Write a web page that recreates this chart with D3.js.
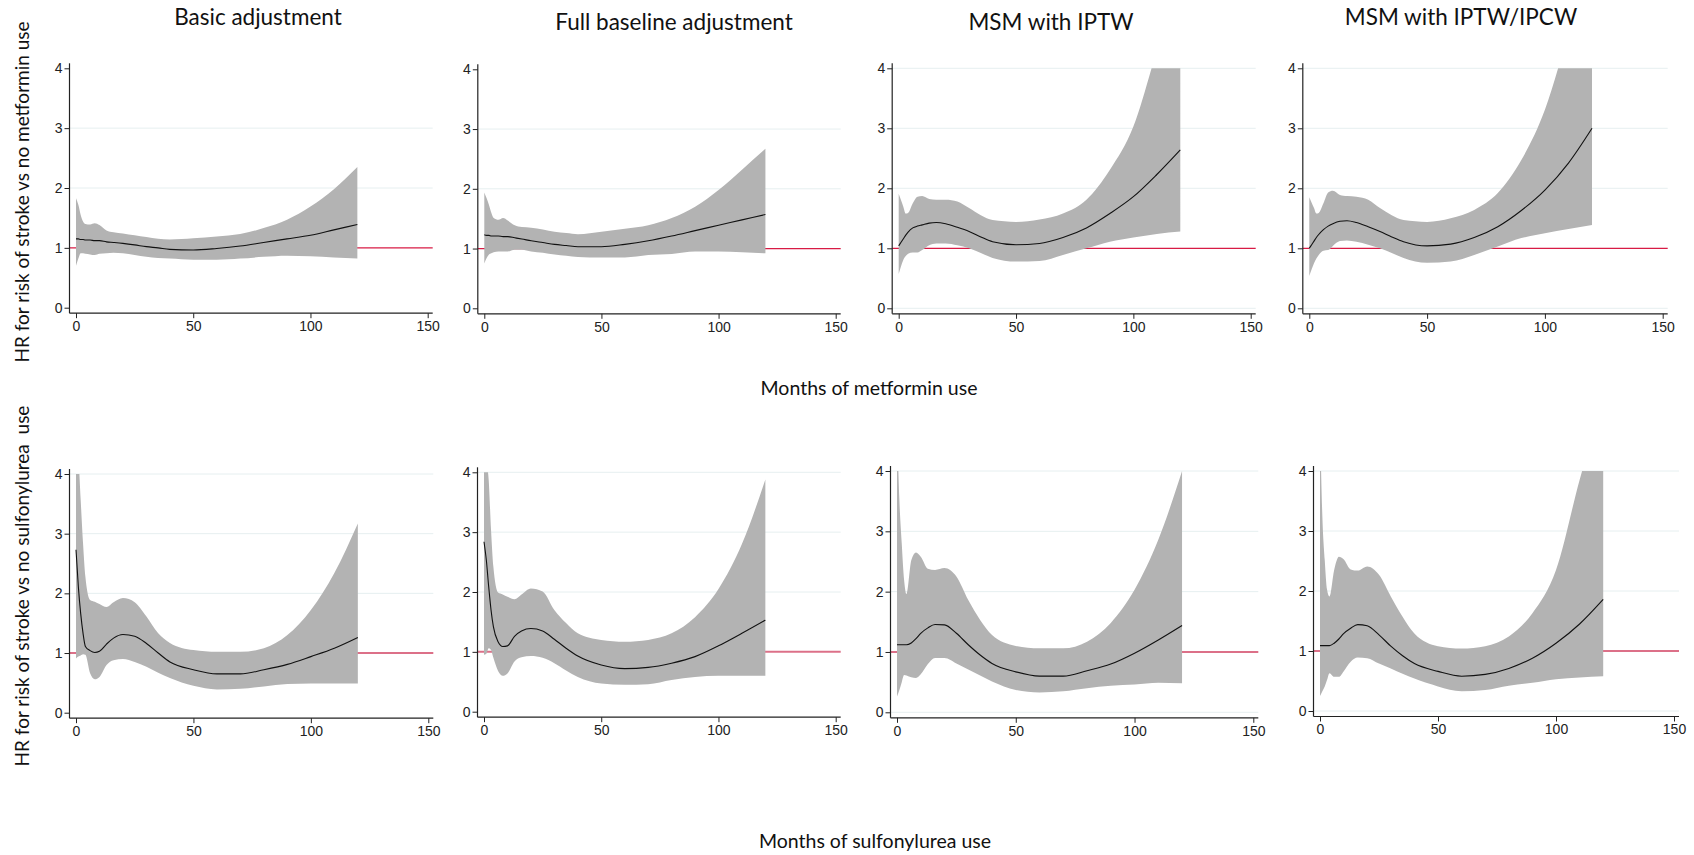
<!DOCTYPE html>
<html>
<head>
<meta charset="utf-8">
<script src="https://cdn.jsdelivr.net/npm/d3@7"></script>
<style>
  body { margin: 0; background: #fff; }
  svg { display: block; }
  .tick text { font-family: "Liberation Sans", Arial, sans-serif; font-size: 14px; fill: #222; }
  .tick line { stroke: #222; }
  .ttl { font-family: Lato, "Open Sans", sans-serif; fill: #111; }
</style>
</head>
<body>
<svg id="chart" width="1694" height="855"></svg>
<script>

// month grid shared by every curve
var months = [0, 1, 2, 3, 4, 6, 8, 10, 13, 16, 20, 25, 30, 35, 40, 50, 60, 70, 80, 90, 100, 110, 120];

// metformin, basic adjustment
var metBasicEst = [1.15, 1.15, 1.14, 1.14, 1.13, 1.13, 1.12, 1.12, 1.10, 1.09, 1.075, 1.05, 1.02, 1.00, 0.975, 0.965, 0.99, 1.03, 1.09, 1.15, 1.21, 1.30, 1.39];
var metBasicHi  = [1.83, 1.72, 1.55, 1.44, 1.40, 1.39, 1.41, 1.38, 1.29, 1.26, 1.24, 1.21, 1.18, 1.15, 1.14, 1.16, 1.19, 1.23, 1.33, 1.47, 1.69, 1.98, 2.35];
var metBasicLo  = [0.70, 0.82, 0.91, 0.91, 0.90, 0.89, 0.88, 0.90, 0.91, 0.92, 0.91, 0.88, 0.85, 0.83, 0.82, 0.80, 0.80, 0.82, 0.85, 0.87, 0.86, 0.84, 0.82];

// metformin, full baseline adjustment
var metFullEst = [1.23, 1.22, 1.22, 1.21, 1.21, 1.21, 1.20, 1.20, 1.18, 1.16, 1.13, 1.10, 1.07, 1.05, 1.03, 1.03, 1.07, 1.13, 1.21, 1.30, 1.39, 1.48, 1.57];
var metFullHi  = [1.94, 1.84, 1.73, 1.60, 1.51, 1.48, 1.51, 1.47, 1.39, 1.36, 1.35, 1.32, 1.28, 1.26, 1.24, 1.28, 1.33, 1.39, 1.51, 1.70, 1.98, 2.32, 2.67];
var metFullLo  = [0.75, 0.84, 0.90, 0.92, 0.94, 0.95, 0.95, 0.95, 0.98, 0.98, 0.95, 0.93, 0.90, 0.88, 0.86, 0.85, 0.85, 0.89, 0.91, 0.95, 0.95, 0.94, 0.92];

// metformin, MSM with IPTW
var metIptwEst = [1.04, 1.10, 1.16, 1.22, 1.27, 1.34, 1.37, 1.39, 1.42, 1.43, 1.41, 1.35, 1.28, 1.19, 1.11, 1.06, 1.08, 1.18, 1.34, 1.58, 1.86, 2.23, 2.64];
var metIptwHi  = [1.91, 1.80, 1.69, 1.58, 1.59, 1.75, 1.86, 1.87, 1.82, 1.81, 1.81, 1.78, 1.67, 1.55, 1.47, 1.44, 1.48, 1.58, 1.81, 2.31, 3.03, 4.30, 5.60];
var metIptwLo  = [0.57, 0.70, 0.81, 0.87, 0.91, 0.93, 0.93, 0.97, 1.05, 1.08, 1.08, 1.05, 1.00, 0.92, 0.84, 0.78, 0.79, 0.89, 1.00, 1.11, 1.18, 1.24, 1.28];

// metformin, MSM with IPTW/IPCW
var metIpcwEst = [1.00, 1.06, 1.12, 1.18, 1.23, 1.31, 1.37, 1.41, 1.45, 1.46, 1.43, 1.36, 1.28, 1.19, 1.11, 1.04, 1.07, 1.18, 1.36, 1.63, 1.97, 2.42, 3.00];
var metIpcwHi  = [1.85, 1.76, 1.67, 1.58, 1.59, 1.75, 1.93, 1.96, 1.89, 1.87, 1.86, 1.81, 1.67, 1.55, 1.47, 1.44, 1.50, 1.64, 1.92, 2.47, 3.31, 4.60, 6.00];
var metIpcwLo  = [0.54, 0.65, 0.75, 0.83, 0.89, 0.96, 0.97, 1.04, 1.12, 1.13, 1.11, 1.06, 1.00, 0.92, 0.84, 0.76, 0.78, 0.89, 1.03, 1.17, 1.25, 1.32, 1.39];

// sulfonylurea, basic adjustment
var sulBasicEst = [2.73, 2.11, 1.66, 1.33, 1.11, 1.04, 1.01, 1.03, 1.15, 1.25, 1.31, 1.28, 1.16, 1.00, 0.85, 0.72, 0.65, 0.65, 0.72, 0.81, 0.94, 1.08, 1.26];
var sulBasicHi  = [4.60, 4.30, 3.56, 2.84, 2.28, 1.89, 1.86, 1.82, 1.77, 1.85, 1.92, 1.85, 1.61, 1.33, 1.17, 1.05, 1.02, 1.02, 1.08, 1.30, 1.72, 2.34, 3.17];
var sulBasicLo  = [0.91, 0.94, 0.96, 0.98, 0.97, 0.66, 0.56, 0.60, 0.80, 0.88, 0.90, 0.85, 0.77, 0.67, 0.58, 0.45, 0.39, 0.40, 0.44, 0.48, 0.49, 0.49, 0.49];

// sulfonylurea, full baseline adjustment
var sulFullEst = [2.84, 2.53, 2.09, 1.70, 1.42, 1.17, 1.09, 1.10, 1.26, 1.35, 1.39, 1.35, 1.21, 1.06, 0.93, 0.78, 0.72, 0.74, 0.81, 0.92, 1.10, 1.31, 1.53];
var sulFullHi  = [4.50, 4.20, 3.87, 3.04, 2.42, 1.99, 1.96, 1.92, 1.88, 1.96, 2.06, 2.01, 1.70, 1.48, 1.31, 1.20, 1.17, 1.20, 1.31, 1.58, 2.05, 2.80, 3.88];
var sulFullLo  = [0.95, 0.97, 1.06, 1.03, 0.90, 0.68, 0.60, 0.64, 0.84, 0.91, 0.93, 0.90, 0.81, 0.69, 0.58, 0.47, 0.45, 0.46, 0.53, 0.58, 0.60, 0.60, 0.60];

// sulfonylurea, MSM with IPTW
var sulIptwEst = [1.12, 1.12, 1.12, 1.12, 1.12, 1.15, 1.22, 1.31, 1.40, 1.455, 1.45, 1.31, 1.12, 0.95, 0.81, 0.67, 0.60, 0.60, 0.69, 0.80, 0.98, 1.20, 1.44];
var sulIptwHi  = [4.80, 3.52, 2.80, 2.19, 1.96, 2.52, 2.65, 2.58, 2.38, 2.36, 2.39, 2.25, 1.86, 1.53, 1.28, 1.10, 1.06, 1.06, 1.17, 1.48, 2.03, 2.86, 4.00];
var sulIptwLo  = [0.26, 0.37, 0.50, 0.62, 0.61, 0.58, 0.57, 0.63, 0.80, 0.90, 0.90, 0.81, 0.71, 0.61, 0.51, 0.37, 0.33, 0.35, 0.40, 0.44, 0.46, 0.49, 0.48];

// sulfonylurea, MSM with IPTW/IPCW
var sulIpcwEst = [1.09, 1.09, 1.09, 1.09, 1.09, 1.13, 1.20, 1.29, 1.38, 1.44, 1.42, 1.27, 1.08, 0.92, 0.79, 0.66, 0.58, 0.61, 0.71, 0.88, 1.13, 1.45, 1.86];
var sulIpcwHi  = [4.80, 3.24, 2.52, 2.02, 1.91, 2.35, 2.57, 2.53, 2.36, 2.34, 2.41, 2.27, 1.91, 1.57, 1.29, 1.08, 1.04, 1.08, 1.24, 1.63, 2.35, 3.85, 5.20];
var sulIpcwLo  = [0.25, 0.33, 0.41, 0.52, 0.63, 0.57, 0.57, 0.66, 0.82, 0.89, 0.88, 0.79, 0.71, 0.62, 0.54, 0.41, 0.33, 0.35, 0.42, 0.47, 0.53, 0.56, 0.58];

var xTicks = [0, 50, 100, 150];
var yTicks = [0, 1, 2, 3, 4];
var refValue = 1;
var columnTitles = ["Basic adjustment", "Full baseline adjustment", "MSM with IPTW", "MSM with IPTW/IPCW"];
var yTitles = ["HR for risk of stroke vs no metformin use", "HR for risk of stroke vs no sulfonylurea  use"];
var xTitles = ["Months of metformin use", "Months of sulfonylurea use"];

// panel placement (pixel position of x=0, x=150, y=0, y=4) and which gridlines show
var panels = [
  {x0: 76,    x1: 427.7,  y0: 307.7, y4: 68.3, row: 0, grid: [2, 3],       est: metBasicEst, lo: metBasicLo, hi: metBasicHi},
  {x0: 484.3, x1: 835.7,  y0: 308.3, y4: 69.3, row: 0, grid: [2, 3],       est: metFullEst,  lo: metFullLo,  hi: metFullHi},
  {x0: 898.7, x1: 1250.7, y0: 308.3, y4: 68.3, row: 0, grid: [0, 2, 3, 4], est: metIptwEst,  lo: metIptwLo,  hi: metIptwHi},
  {x0: 1309.3,x1: 1662.7, y0: 308.3, y4: 68.3, row: 0, grid: [0, 2, 3, 4], est: metIpcwEst,  lo: metIpcwLo,  hi: metIpcwHi},
  {x0: 76,    x1: 428.3,  y0: 712.7, y4: 474,  row: 1, grid: [2, 3, 4],    est: sulBasicEst, lo: sulBasicLo, hi: sulBasicHi},
  {x0: 484,   x1: 835.7,  y0: 711.7, y4: 472.3,row: 1, grid: [2, 3, 4],    est: sulFullEst,  lo: sulFullLo,  hi: sulFullHi},
  {x0: 897,   x1: 1253.3, y0: 712.3, y4: 471,  row: 1, grid: [0, 2, 3, 4], est: sulIptwEst,  lo: sulIptwLo,  hi: sulIptwHi},
  {x0: 1320,  x1: 1674,   y0: 711,   y4: 471,  row: 1, grid: [0, 2, 3, 4], est: sulIpcwEst,  lo: sulIpcwLo,  hi: sulIpcwHi}
];

var refColor = ["#d81b45", "#dc7088"];
var refWidth = [1.3, 2];

var svg = d3.select('#chart');
var defs = svg.append('defs');

panels.forEach(function(p, i) {
  var x = d3.scaleLinear().domain([0, 150]).range([p.x0, p.x1]);
  var y = d3.scaleLinear().domain([0, 4]).range([p.y0, p.y4]);
  var g = svg.append('g');

  var rows = months.map(function(m, k) {
    return {m: m, est: p.est[k], lo: p.lo[k], hi: p.hi[k]};
  });

  var axisLeftX = x(0) - 6.5;
  var axisBottomY = y(0) + 5.5;

  // the band is cut off at the top of the y range (HR = 4)
  defs.append('clipPath')
      .attr('id', 'clip' + i)
      .append('rect')
      .attr('x', axisLeftX).attr('y', y(4))
      .attr('width', x(150) - axisLeftX)
      .attr('height', axisBottomY - y(4));

  // gridlines
  g.selectAll('line.grid')
   .data(p.grid)
   .enter()
   .append('line')
   .attr('x1', axisLeftX).attr('x2', x(150) + 5)
   .attr('y1', function(d) { return y(d); })
   .attr('y2', function(d) { return y(d); })
   .attr('stroke', '#e6eff0')
   .attr('stroke-width', 1);

  // reference line at HR = 1
  g.append('line')
   .attr('x1', axisLeftX).attr('x2', x(150) + 5)
   .attr('y1', y(refValue)).attr('y2', y(refValue))
   .attr('stroke', refColor[p.row])
   .attr('stroke-width', refWidth[p.row]);

  // confidence band
  var area = d3.area()
               .x(function(d) { return x(d.m); })
               .y0(function(d) { return y(d.lo); })
               .y1(function(d) { return y(d.hi); })
               .curve(d3.curveMonotoneX);
  g.append('path')
   .datum(rows)
   .attr('d', area)
   .attr('clip-path', 'url(#clip' + i + ')')
   .attr('fill', '#b3b3b3');

  // estimate
  var line = d3.line()
               .x(function(d) { return x(d.m); })
               .y(function(d) { return y(d.est); })
               .curve(d3.curveMonotoneX);
  g.append('path')
   .datum(rows)
   .attr('d', line)
   .attr('fill', 'none')
   .attr('stroke', '#111')
   .attr('stroke-width', 1.1);

  // axes
  var ya = g.append('g')
            .attr('transform', 'translate(' + axisLeftX + ',0)')
            .call(d3.axisLeft(y).tickValues(yTicks).tickSize(5).tickPadding(2).tickFormat(d3.format('d')));
  ya.select('.domain').remove();
  var xa = g.append('g')
            .attr('transform', 'translate(0,' + axisBottomY + ')')
            .call(d3.axisBottom(x).tickValues(xTicks).tickSize(5).tickPadding(3).tickFormat(d3.format('d')));
  xa.select('.domain').remove();

  g.append('line')
   .attr('x1', axisLeftX).attr('x2', axisLeftX)
   .attr('y1', y(4) - 5).attr('y2', axisBottomY)
   .attr('stroke', '#222').attr('stroke-width', 1.2);
  g.append('line')
   .attr('x1', axisLeftX).attr('x2', x(150) + 5)
   .attr('y1', axisBottomY).attr('y2', axisBottomY)
   .attr('stroke', '#222').attr('stroke-width', 1.2);
});

// column titles
var titlePos = [[258, 25], [674, 30], [1051, 30], [1461, 25]];
svg.selectAll('text.coltitle')
   .data(columnTitles)
   .enter()
   .append('text')
   .attr('class', 'ttl')
   .attr('x', function(d, i) { return titlePos[i][0]; })
   .attr('y', function(d, i) { return titlePos[i][1]; })
   .attr('text-anchor', 'middle')
   .style('font-size', '22.5px')
   .text(function(d) { return d; });

// x axis titles
var xTitlePos = [[869, 395], [875, 848]];
svg.selectAll('text.xtitle')
   .data(xTitles)
   .enter()
   .append('text')
   .attr('class', 'ttl')
   .attr('x', function(d, i) { return xTitlePos[i][0]; })
   .attr('y', function(d, i) { return xTitlePos[i][1]; })
   .attr('text-anchor', 'middle')
   .style('font-size', '19.5px')
   .text(function(d) { return d; });

// y axis titles
var yTitlePos = [[29, 192], [29, 586]];
svg.selectAll('text.ytitle')
   .data(yTitles)
   .enter()
   .append('text')
   .attr('class', 'ttl')
   .attr('transform', function(d, i) { return 'translate(' + yTitlePos[i][0] + ',' + yTitlePos[i][1] + ') rotate(-90)'; })
   .attr('text-anchor', 'middle')
   .style('font-size', '19px')
   .style('white-space', 'pre')
   .text(function(d) { return d; });

</script>
</body>
</html>
